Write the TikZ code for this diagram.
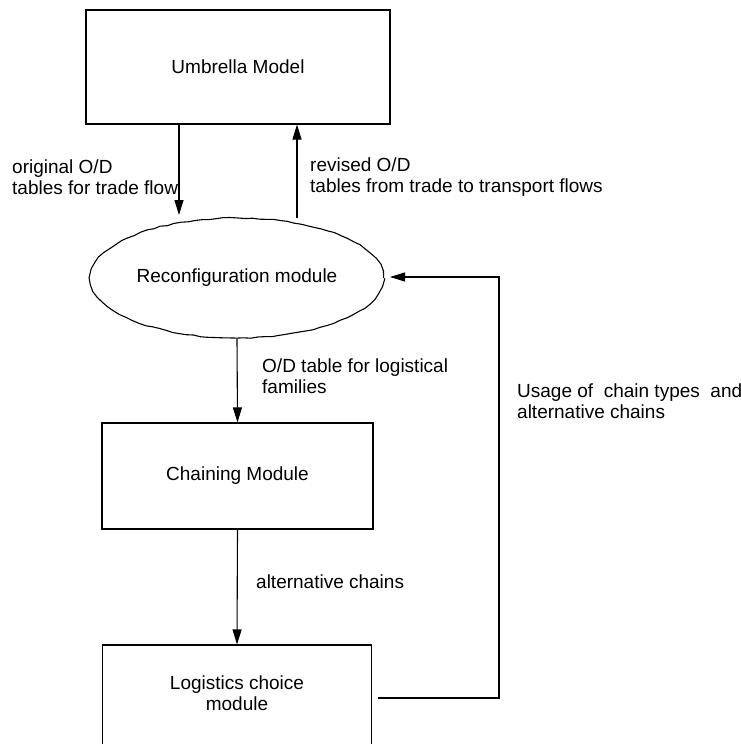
\documentclass[tikz,border=0pt]{standalone}
\usepackage{fontspec}
\setmainfont{Liberation Sans}
\usetikzlibrary{arrows.meta,shapes.geometric,decorations.pathmorphing}
\begin{document}
\begin{tikzpicture}[x=1pt,y=-1pt,
  every node/.style={font=\fontsize{19}{21}\selectfont},
  box/.style={draw,line width=1.1pt,rectangle,inner sep=0pt},
  lbl/.style={anchor=west,align=left,inner sep=0pt},
  arr/.style={line width=1.1pt,-{Triangle[length=15pt,width=9pt]}},
  ln/.style={line width=1.1pt}]
\pgfmathsetseed{7}
\clip (0,0) rectangle (741,744);
\fill[white] (0,0) rectangle (741,744);
\node[box,minimum width=304pt,minimum height=114pt] (umb) at (238,67) {Umbrella Model};
\node[draw,ellipse,line width=1.1pt,minimum width=280pt,minimum height=120pt,
      decorate,decoration={random steps,segment length=7pt,amplitude=0.6pt}]
      (rec) at (237,278) {Reconfiguration module};
\node[box,minimum width=271pt,minimum height=106pt] (chn) at (237.5,476) {Chaining Module};
\node[box,minimum width=269pt,minimum height=130pt] (log) at (237,710) {};
\node[align=center,inner sep=0pt] (logt) at (237,693) {Logistics choice\\module};
\node[lbl] (l1) at (12,177) {original O/D\\tables for trade flow};
\node[lbl] (l2) at (310,177) {revised O/D\\tables from trade to transport flows};
\node[lbl] (l3) at (262,376) {O/D table for logistical\\families};
\node[lbl] (l4) at (256,582) {alternative chains};
\node[lbl] (l5) at (517,401) {Usage of \ chain types \ and\\alternative chains};
\coordinate (a1e) at (179,215);
\coordinate (a2s) at (297,218);
\coordinate (fbR) at (499,698);
\coordinate (fbT) at (390,277);
\draw[arr] (umb.south -| a1e) -- (a1e);
\draw[arr] (a2s) -- (umb.south -| a2s);
\draw[arr] (rec.south) -- (chn.north);
\draw[arr] (chn.south) -- (log.north);
\draw[arr] ([xshift=6pt]log.east |- fbR) -- (fbR) -- (fbR |- fbT) -- (fbT);
\end{tikzpicture}
\end{document}
